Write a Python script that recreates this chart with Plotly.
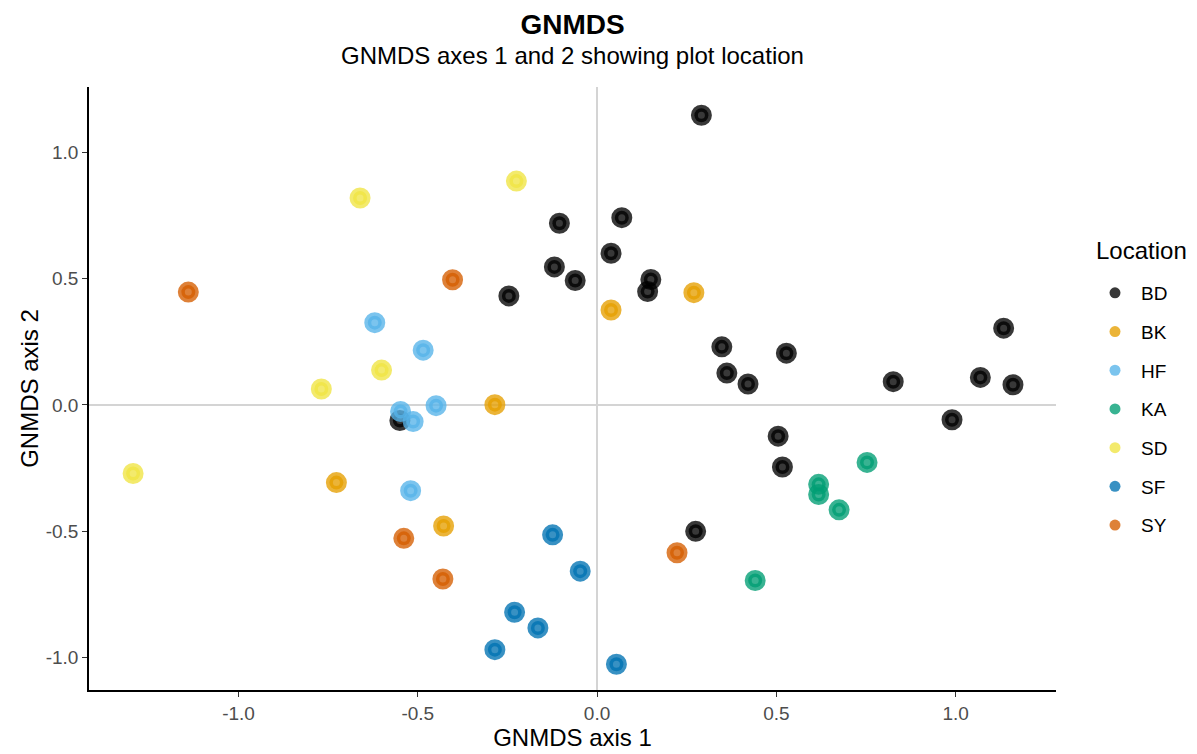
import plotly.graph_objects as go

locations = ["BD", "BK", "HF", "KA", "SD", "SF", "SY"]
colors = ["#000000", "#E69F00", "#56B4E9", "#009E73", "#F0E442", "#0072B2", "#D55E00"]

bd_x = [0.291, -0.105, 0.069, 0.039, -0.119, -0.061, -0.246, 0.150, 0.141, -0.550,
        0.348, 0.362, 0.421, 0.528, 0.826, 1.134, 1.069, 1.160, 0.990, 0.505, 0.517, 0.275]
bd_y = [1.148, 0.720, 0.742, 0.601, 0.547, 0.493, 0.432, 0.497, 0.449, -0.062,
        0.230, 0.126, 0.083, 0.205, 0.092, 0.304, 0.109, 0.080, -0.059, -0.124, -0.246, -0.501]
bk_x = [0.270, 0.039, -0.727, -0.285, -0.428]
bk_y = [0.445, 0.376, -0.308, 0.001, -0.480]
hf_x = [-0.620, -0.485, -0.548, -0.513, -0.449, -0.520]
hf_y = [0.326, 0.217, -0.026, -0.066, -0.003, -0.340]
ka_x = [0.753, 0.618, 0.618, 0.675, 0.441]
ka_y = [-0.228, -0.315, -0.355, -0.416, -0.696]
sd_x = [-0.661, -0.225, -0.601, -0.769, -1.294]
sd_y = [0.820, 0.887, 0.138, 0.063, -0.272]
sf_x = [-0.124, -0.047, -0.230, -0.165, -0.285, 0.054]
sf_y = [-0.515, -0.659, -0.822, -0.884, -0.970, -1.028]
sy_x = [-1.140, -0.403, -0.539, -0.430, 0.223]
sy_y = [0.447, 0.496, -0.529, -0.690, -0.586]

series_x = [bd_x, bk_x, hf_x, ka_x, sd_x, sf_x, sy_x]
series_y = [bd_y, bk_y, hf_y, ka_y, sd_y, sf_y, sy_y]

tick_vals = [-1.0, -0.5, 0.0, 0.5, 1.0]
tick_text = ["-1.0", "-0.5", "0.0", "0.5", "1.0"]


def rgba(hexc, a):
    h = hexc.lstrip("#")
    r, g, b = int(h[0:2], 16), int(h[2:4], 16), int(h[4:6], 16)
    return f"rgba({r},{g},{b},{a})"


fig = go.Figure()
for name, col, xs, ys in zip(locations, colors, series_x, series_y):
    fig.add_trace(go.Scatter(
        x=xs, y=ys, mode="markers", name=name, showlegend=False,
        marker=dict(symbol="circle", size=14, color=rgba(col, 0.78),
                    line=dict(color=rgba(col, 0.78), width=7)),
        hoverinfo="x+y+name",
    ))
for name, col in zip(locations, colors):
    fig.add_trace(go.Scatter(
        x=[None], y=[None], mode="markers", name=name, legendgroup=name,
        marker=dict(symbol="circle", size=11, color=rgba(col, 0.78), line=dict(width=0)),
    ))

W, H = 1197, 754
L, R, T, B = 89, 141, 87, 62
font_family = "Liberation Sans, Arial, sans-serif"
fig.update_layout(
    width=W, height=H,
    margin=dict(l=L, r=R, t=T, b=B),
    paper_bgcolor="white", plot_bgcolor="white",
    font=dict(family=font_family, color="black"),
    title=dict(text="<b>GNMDS</b>", x=0.5, xref="paper", xanchor="center",
               y=1 - 24 / H, yref="container", yanchor="middle",
               font=dict(size=28, color="black")),
    annotations=[
        dict(text="GNMDS axes 1 and 2 showing plot location", x=0.5, xref="paper",
             xanchor="center", y=1 + (T - 55) / (H - T - B), yref="paper", yanchor="middle",
             showarrow=False, font=dict(size=24, color="black")),
        dict(text="Location", x=1 + (1094 - (W - R)) / (W - L - R), xref="paper", xanchor="left",
             y=1 - (251 - T) / (H - T - B), yref="paper", yanchor="middle",
             showarrow=False, font=dict(size=24, color="black")),
    ],
    legend=dict(font=dict(size=19), x=1089 / W, xref="container", xanchor="left",
                y=1 - 274 / H, yref="container", yanchor="top",
                tracegroupgap=11, itemwidth=42),
    showlegend=True,
)

fig.update_xaxes(range=[-1.417, 1.28], tickvals=tick_vals, ticktext=tick_text,
                 showgrid=False, zeroline=True, zerolinecolor="#d4d4d4", zerolinewidth=1.5,
                 showline=True, linecolor="black", linewidth=1.5,
                 ticks="outside", ticklen=5, tickcolor="#333333", tickwidth=1.2,
                 tickfont=dict(size=19, color="#4d4d4d"),
                 title=dict(text="GNMDS axis 1", font=dict(size=24), standoff=2))
fig.update_yaxes(range=[-1.13, 1.26], tickvals=tick_vals, ticktext=tick_text,
                 showgrid=False, zeroline=True, zerolinecolor="#d4d4d4", zerolinewidth=1.5,
                 showline=True, linecolor="black", linewidth=1.5,
                 ticks="outside", ticklen=5, tickcolor="#333333", tickwidth=1.2,
                 tickfont=dict(size=19, color="#4d4d4d"),
                 title=dict(text="GNMDS axis 2", font=dict(size=24), standoff=0))

fig.write_html("out.html")
